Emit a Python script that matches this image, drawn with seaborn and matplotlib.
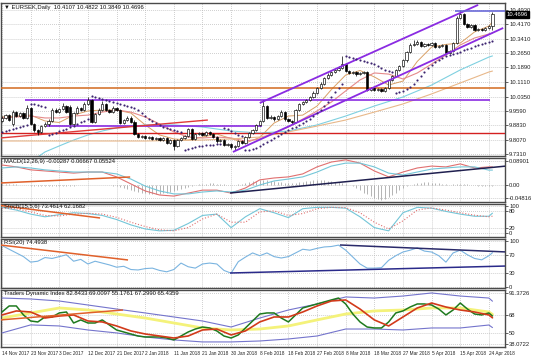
import matplotlib
matplotlib.use("Agg")
import matplotlib.pyplot as plt
import matplotlib.transforms as mtransforms
import numpy as np
import seaborn as sns

# ---------------- EURSEK daily candles ----------------
opens = [9.905, 9.922, 9.937, 9.890, 9.953, 9.932, 9.948, 9.922, 9.975, 9.890,
         9.858, 9.848, 9.879, 9.890, 9.906, 9.964, 9.953, 9.969, 9.985, 9.980,
         9.890, 9.948, 9.975, 9.964, 9.996, 10.017, 9.901, 9.943, 9.964, 9.996,
         9.964, 9.953, 9.975, 9.964, 9.895, 9.911, 9.922, 9.901, 9.837, 9.821,
         9.826, 9.815, 9.821, 9.811, 9.815, 9.805, 9.815, 9.789, 9.805, 9.774,
         9.805, 9.815, 9.826, 9.864, 9.811, 9.837, 9.842, 9.832, 9.848, 9.837,
         9.821, 9.800, 9.805, 9.779, 9.784, 9.768, 9.774, 9.800, 9.789, 9.821,
         9.842, 9.858, 9.885, 9.906, 9.985, 9.922, 9.927, 9.916, 9.932, 9.953,
         9.916, 9.906, 9.901, 9.964, 9.996, 10.006, 10.017, 10.033, 10.054, 10.080,
         10.102, 10.133, 10.149, 10.165, 10.176, 10.186, 10.207, 10.170, 10.160, 10.165,
         10.154, 10.160, 10.165, 10.070, 10.080, 10.070, 10.075, 10.065, 10.080, 10.123,
         10.144, 10.176, 10.197, 10.228, 10.271, 10.308, 10.313, 10.324, 10.303, 10.313,
         10.308, 10.318, 10.297, 10.303, 10.308, 10.266, 10.276, 10.318, 10.451, 10.472,
         10.419, 10.403, 10.414, 10.387, 10.393, 10.387, 10.398, 10.4107]
highs = [9.930, 9.945, 9.943, 9.964, 9.960, 9.955, 9.952, 9.990, 9.980, 9.896,
         9.866, 9.886, 9.900, 9.914, 9.972, 9.972, 9.977, 10.000, 9.990, 9.990,
         9.955, 9.984, 9.980, 10.004, 10.033, 10.022, 9.950, 9.972, 10.010, 10.002,
         9.970, 9.985, 9.982, 9.970, 9.918, 9.930, 9.930, 9.910, 9.842, 9.832,
         9.830, 9.828, 9.826, 9.822, 9.820, 9.822, 9.820, 9.812, 9.810, 9.812,
         9.820, 9.830, 9.870, 9.868, 9.843, 9.850, 9.848, 9.854, 9.852, 9.842,
         9.826, 9.810, 9.810, 9.790, 9.790, 9.780, 9.806, 9.804, 9.826, 9.848,
         9.864, 9.890, 9.912, 10.017, 9.990, 9.935, 9.930, 9.938, 9.964, 9.958,
         9.920, 9.910, 9.970, 10.003, 10.014, 10.024, 10.040, 10.062, 10.088, 10.110,
         10.140, 10.158, 10.172, 10.183, 10.196, 10.250, 10.212, 10.176, 10.170, 10.172,
         10.166, 10.172, 10.170, 10.088, 10.085, 10.081, 10.080, 10.086, 10.130, 10.150,
         10.182, 10.204, 10.235, 10.278, 10.318, 10.334, 10.334, 10.330, 10.320, 10.318,
         10.325, 10.324, 10.310, 10.314, 10.312, 10.282, 10.324, 10.462, 10.493, 10.478,
         10.425, 10.420, 10.418, 10.398, 10.398, 10.404, 10.415, 10.4822]
lows = [9.898, 9.916, 9.906, 9.880, 9.926, 9.928, 9.916, 9.915, 9.884, 9.850,
        9.832, 9.842, 9.872, 9.882, 9.900, 9.946, 9.946, 9.962, 9.946, 9.884,
        9.884, 9.942, 9.957, 9.958, 9.990, 9.895, 9.895, 9.936, 9.958, 9.958,
        9.946, 9.948, 9.958, 9.888, 9.888, 9.905, 9.894, 9.830, 9.814, 9.815,
        9.808, 9.810, 9.804, 9.805, 9.798, 9.800, 9.782, 9.783, 9.752, 9.766,
        9.798, 9.808, 9.820, 9.805, 9.805, 9.830, 9.826, 9.826, 9.830, 9.815,
        9.792, 9.795, 9.772, 9.772, 9.760, 9.752, 9.768, 9.782, 9.784, 9.815,
        9.836, 9.852, 9.878, 9.900, 9.915, 9.915, 9.908, 9.910, 9.926, 9.908,
        9.898, 9.892, 9.895, 9.958, 9.990, 10.000, 10.010, 10.028, 10.048, 10.074,
        10.096, 10.126, 10.142, 10.158, 10.170, 10.180, 10.164, 10.152, 10.154, 10.146,
        10.148, 10.154, 10.064, 10.062, 10.062, 10.064, 10.058, 10.060, 10.074, 10.118,
        10.138, 10.170, 10.190, 10.220, 10.264, 10.300, 10.306, 10.296, 10.296, 10.300,
        10.302, 10.290, 10.290, 10.296, 10.258, 10.262, 10.270, 10.312, 10.444, 10.412,
        10.396, 10.396, 10.380, 10.382, 10.380, 10.382, 10.392, 10.3849]
closes = [9.922, 9.937, 9.911, 9.953, 9.932, 9.948, 9.922, 9.975, 9.890, 9.858,
          9.848, 9.879, 9.890, 9.906, 9.964, 9.953, 9.969, 9.985, 9.953, 9.890,
          9.948, 9.975, 9.964, 9.996, 10.017, 9.901, 9.943, 9.964, 9.996, 9.964,
          9.953, 9.975, 9.964, 9.895, 9.911, 9.922, 9.901, 9.837, 9.821, 9.826,
          9.815, 9.821, 9.811, 9.815, 9.805, 9.815, 9.789, 9.805, 9.774, 9.805,
          9.815, 9.826, 9.864, 9.811, 9.837, 9.842, 9.832, 9.848, 9.837, 9.821,
          9.800, 9.805, 9.779, 9.784, 9.768, 9.774, 9.800, 9.789, 9.821, 9.842,
          9.858, 9.885, 9.906, 9.985, 9.922, 9.927, 9.916, 9.932, 9.953, 9.916,
          9.906, 9.901, 9.964, 9.996, 10.006, 10.017, 10.033, 10.054, 10.080, 10.102,
          10.133, 10.149, 10.165, 10.176, 10.186, 10.207, 10.170, 10.160, 10.165, 10.154,
          10.160, 10.165, 10.070, 10.080, 10.070, 10.075, 10.065, 10.080, 10.123, 10.144,
          10.176, 10.197, 10.228, 10.271, 10.308, 10.313, 10.324, 10.303, 10.313, 10.308,
          10.318, 10.297, 10.303, 10.308, 10.266, 10.276, 10.318, 10.451, 10.472, 10.419,
          10.403, 10.414, 10.387, 10.393, 10.387, 10.398, 10.408, 10.4696]
sar = [9.848, 9.853, 9.858, 9.864, 9.869, 9.874, 9.879, 9.885,
       9.996, 9.996, 9.990, 9.985, 9.980,
       9.832, 9.837, 9.842, 9.853, 9.858, 9.864, 9.874, 9.879, 9.890, 9.901, 9.906, 9.916,
       10.038, 10.033, 10.027, 10.022, 10.017, 10.012, 10.006, 10.001, 9.996, 9.990, 9.985, 9.980,
       9.975, 9.964, 9.948, 9.932, 9.916, 9.906, 9.895, 9.885, 9.874, 9.869, 9.864, 9.858, 9.853, 9.848,
       9.752, 9.758, 9.763, 9.768, 9.774, 9.774, 9.779, 9.779, 9.779, 9.784, 9.784,
       9.869, 9.864, 9.853, 9.842, 9.832, 9.826,
       9.752, 9.752, 9.758, 9.763, 9.774, 9.784, 9.795, 9.805, 9.816, 9.826, 9.837, 9.848, 9.858, 9.869,
       9.874, 9.885, 9.895, 9.906, 9.916, 9.932, 9.948, 9.964, 9.985, 10.006, 10.033, 10.059, 10.080, 10.102,
       10.250, 10.244, 10.239, 10.234, 10.228, 10.223, 10.218, 10.213, 10.207, 10.197, 10.186, 10.176, 10.170, 10.165,
       10.054, 10.059, 10.065, 10.075, 10.086, 10.102, 10.123, 10.144, 10.165, 10.186, 10.202, 10.218, 10.228, 10.239,
       10.250, 10.255, 10.260,
       10.266, 10.271, 10.281, 10.287, 10.292, 10.303, 10.308, 10.313, 10.318, 10.324, 10.329]

# sample positions (bar numbers) of the smoothed lines
step4 = list(range(0, 137, 4)) + [137]
step2 = list(range(0, 137, 2)) + [137]
step8 = list(range(0, 137, 8)) + [137]
cyan_ma_idx = [8, 12, 16, 20, 24, 28, 32, 40, 48, 56, 64, 72, 80, 88, 96, 104, 112, 120, 128, 136, 137]

ma_fast = [9.927, 9.932, 9.937, 9.906, 9.898, 9.937, 9.959, 9.964, 9.964, 9.948,
           9.885, 9.832, 9.811, 9.805, 9.821, 9.837, 9.813, 9.789, 9.819, 9.895,
           9.932, 9.937, 9.985, 10.072, 10.149, 10.173, 10.139, 10.096, 10.117, 10.221,
           10.297, 10.311, 10.318, 10.377, 10.408, 10.430]
ma_mid = [9.922, 9.927, 9.932, 9.922, 9.922, 9.932, 9.937, 9.953, 9.964, 9.953,
          9.927, 9.890, 9.848, 9.821, 9.816, 9.821, 9.816, 9.800, 9.811, 9.842,
          9.874, 9.916, 9.959, 10.006, 10.065, 10.123, 10.160, 10.154, 10.128, 10.160,
          10.207, 10.255, 10.308, 10.345, 10.366, 10.371]
ma_cyan = [9.689, 9.742, 9.774, 9.805, 9.832, 9.853, 9.869, 9.885, 9.885, 9.874,
           9.853, 9.842, 9.853, 9.885, 9.932, 9.985, 10.033, 10.096, 10.176, 10.244, 10.250]
ma_slow = [9.800, 9.800, 9.800, 9.800, 9.800, 9.800, 9.803, 9.805, 9.811, 9.821,
           9.848, 9.879, 9.911, 9.953, 9.996, 10.049, 10.107, 10.165, 10.170]

# drawn objects: (bar, price) end points
orange_level = 10.080
red_level = 9.842
purple_top = [(6.4, 10.017), (136.3, 10.017)]
purple_low = [(12.6, 9.879), (72.6, 9.879)]
red_trend = [(-0.5, 9.816), (57.5, 9.911)]
channel_up = [(72.0, 10.001), (133.0, 10.520)]
channel_dn = [(64.5, 9.742), (140.0, 10.398)]
top_line = [(126.5, 10.488), (141.0, 10.488)]

# ---------------- MACD ----------------
macd_main = [0.074, 0.067, 0.056, 0.052, 0.048, 0.044, 0.048, 0.048, 0.030, 0.004,
             -0.022, -0.037, -0.041, -0.030, -0.019, -0.019, -0.030, -0.011, 0.019, 0.026,
             0.030, 0.041, 0.067, 0.085, 0.093, 0.081, 0.052, 0.030, 0.048, 0.063,
             0.070, 0.067, 0.078, 0.063, 0.067, 0.0667]
macd_signal = [0.063, 0.067, 0.063, 0.056, 0.052, 0.048, 0.048, 0.048, 0.041, 0.022,
               -0.004, -0.022, -0.033, -0.033, -0.026, -0.022, -0.026, -0.019, 0.000, 0.015,
               0.022, 0.030, 0.048, 0.070, 0.081, 0.081, 0.067, 0.044, 0.037, 0.048,
               0.059, 0.063, 0.067, 0.067, 0.055, 0.0552]
macd_hist_milli = [5, 5, 4, 3, 2, 1, 0, -1, -2, -3, -4, -4, -3, -3, -2, -2,
                   -2, -2, -3, -3, -2, -1, 0, 0, 0, 0, 0, 1, 0, 0, -1, -2,
                   -5, -8, -12, -15, -18, -22, -25, -28, -30, -32, -33, -34, -33, -31, -28, -25,
                   -22, -18, -14, -10, -6, -2, 0, 2, 4, 5, 6, 6, 5, 3, 2, 0,
                   -1, 0, 2, 5, 8, 11, 14, 16, 18, 18, 17, 16, 14, 12, 10, 9,
                   8, 8, 9, 10, 12, 14, 16, 17, 18, 18, 17, 16, 14, 12, 10, 7,
                   4, 0, -5, -12, -20, -28, -35, -42, -48, -52, -54, -50, -44, -36, -28, -20,
                   -12, -5, 0, 4, 7, 9, 10, 10, 9, 8, 6, 4, 2, 1, 2, 4,
                   5, 4, 2, 0, -1, -2, -3, -3, -3, -3]
macd_trend = [(63.7, -0.0296), (141.0, 0.0703)]
macd_trend_left = [(-0.5, 0.0074), (35.8, 0.0296)]

# ---------------- Stochastic ----------------
stoch_k = [95, 85, 70, 60, 68, 75, 72, 65, 50, 30, 15, 8, 10, 35, 65, 70, 20, 60,
           90, 75, 57, 90, 95, 95, 92, 60, 20, 8, 75, 95, 92, 80, 70, 62, 62, 73.5]
stoch_d = [92, 90, 78, 65, 63, 70, 73, 70, 58, 40, 24, 12, 8, 20, 52, 70, 40, 40,
           78, 82, 65, 72, 90, 95, 94, 75, 40, 15, 45, 85, 93, 85, 75, 66, 60, 62.2]
stoch_trend = [(-0.5, 102.0), (27.4, 55.6)]

# ---------------- RSI ----------------
rsi = [90, 82, 74, 66, 54, 56, 64, 62, 66, 70,
       56, 60, 50, 56, 52, 48, 43, 45, 38, 37,
       40, 41, 36, 33, 38, 52, 44, 41, 50, 52,
       50, 36, 30, 55, 65, 74, 68, 74, 66, 63,
       66, 74, 82, 80, 84, 87, 88, 91, 80, 65,
       50, 41, 41, 42, 58, 68, 76, 80, 85, 78,
       76, 68, 54, 74, 80, 70, 62, 59, 68, 74.5]
rsi_trend_left = [(-0.5, 91.3), (35.2, 58.7)]
rsi_trend_top = [(94.4, 91.3), (141.0, 76.1)]
rsi_trend_low = [(63.7, 30.4), (141.0, 45.6)]

# ---------------- Traders Dynamic Index ----------------
tdi_green = [71.5, 77.8, 77.8, 68.4, 62.1, 61.1, 66.3, 66.3, 70.5, 71.5,
             60.0, 63.2, 60.0, 60.0, 63.2, 57.9, 52.7, 50.6, 48.5, 46.4,
             45.4, 45.4, 45.4, 44.3, 42.3, 46.4, 50.6, 53.7, 55.8, 54.8,
             51.7, 46.4, 44.3, 47.5, 54.8, 62.1, 69.4, 70.5, 70.5, 65.2,
             61.1, 68.4, 75.7, 77.8, 79.9, 82.0, 84.1, 86.1, 79.9, 69.4,
             61.1, 55.8, 54.8, 54.8, 61.1, 70.5, 72.6, 76.7, 79.9, 79.9,
             78.8, 74.6, 68.4, 73.6, 80.9, 74.6, 69.4, 68.4, 70.5, 67.3]
tdi_red = [68.4, 72.6, 71.5, 65.2, 67.3, 68.4, 62.1, 61.1, 56.9, 51.7,
           48.5, 46.4, 44.3, 46.4, 52.7, 53.7, 47.5, 51.7, 61.1, 66.3,
           66.3, 71.5, 77.8, 83.0, 84.1, 74.6, 63.2, 56.9, 66.3, 75.7,
           80.9, 76.7, 73.6, 71.5, 68.4, 65.4]
tdi_upper = [86.1, 85.1, 83.0, 78.8, 74.6, 70.5, 66.3, 62.1, 55.8, 65.2,
             73.6, 79.9, 87.2, 86.1, 88.2, 91.4, 88.2, 86.1, 82.8]
tdi_lower = [49.6, 58.0, 56.9, 52.7, 49.6, 45.4, 42.3, 40.2, 40.2, 41.2,
             43.3, 46.4, 53.7, 53.7, 52.7, 54.8, 54.8, 57.9, 55.2]
tdi_base = [65.2, 70.5, 75.7, 73.6, 69.4, 65.2, 60.0, 54.8, 52.7, 53.7,
            56.9, 63.2, 69.4, 72.6, 73.6, 75.7, 75.7, 71.5, 69.0]
tdi_trend = [(-0.5, 63.2), (33.8, 73.6)]

# ---------------- axis labels ----------------
date_ticks = list(range(0, 137, 8))
date_labels = ["14 Nov 2017", "23 Nov 2017", "3 Dec 2017", "12 Dec 2017", "21 Dec 2017",
               "2 Jan 2018", "11 Jan 2018", "21 Jan 2018", "30 Jan 2018", "8 Feb 2018",
               "18 Feb 2018", "27 Feb 2018", "8 Mar 2018", "18 Mar 2018", "27 Mar 2018",
               "5 Apr 2018", "15 Apr 2018", "24 Apr 2018"]
price_ticks = [10.4930, 10.4170, 10.3410, 10.2650, 10.1890, 10.1110, 10.0350,
               9.9590, 9.8830, 9.8070, 9.7310]

sns.set_theme(style="white")
plt.rcParams['font.family'] = ['Liberation Sans', 'DejaVu Sans']

W, H = 536, 358
fig = plt.figure(figsize=(W / 100, H / 100), dpi=100)
FS = 4.2
FSX = 3.4
GRID = dict(color='#b4b4b4', linestyle=':', linewidth=0.55)


def panel(top, bottom):
    ax = fig.add_axes([1 / W, 1 - bottom / H, 504 / W, (bottom - top) / H])
    ax.set_facecolor('white')
    for s in ax.spines.values():
        s.set_color('#4a4a4a')
        s.set_linewidth(1.0)
    ax.yaxis.tick_right()
    ax.tick_params(axis='y', labelsize=FS, length=2, pad=1, width=0.5, colors='#222222')
    ax.tick_params(axis='x', length=0, labelbottom=False)
    ax.set_xticks(date_ticks)
    ax.set_xlim(-0.28, 140.5)
    ax.grid(True, **GRID)
    ax.set_axisbelow(True)
    return ax


def seg(ax, pts, color, lw=1.0, z=6):
    ax.plot([pts[0][0], pts[1][0]], [pts[0][1], pts[1][1]], color=color, lw=lw, zorder=z,
            solid_capstyle='butt')


def label(ax, txt):
    ax.text(0.006, 0.985, txt, transform=ax.transAxes, fontsize=FS, va='top', ha='left',
            color='#111111', zorder=10)


# ---- main price panel ----
ax = panel(3, 156)
sns.lineplot(x=step4, y=ma_fast, ax=ax, color='#d9a066', linewidth=0.7, zorder=2)
sns.lineplot(x=step4, y=ma_mid, ax=ax, color='#e58a8a', linewidth=0.8, zorder=2)
sns.lineplot(x=cyan_ma_idx, y=ma_cyan, ax=ax, color='#7fd0e0', linewidth=0.8, zorder=2)
sns.lineplot(x=step8, y=ma_slow, ax=ax, color='#e8b88a', linewidth=0.8, zorder=2)

ax.axhline(orange_level, color='#d2691e', lw=1.1, zorder=3)
ax.axhline(red_level, color='#d42020', lw=1.0, zorder=3)
seg(ax, purple_top, '#8a2be2', 1.2, 3)
seg(ax, purple_low, '#8a2be2', 1.2, 3)
seg(ax, red_trend, '#e03a3a', 1.0, 3)
seg(ax, channel_up, '#8a2be2', 1.3, 6)
seg(ax, channel_dn, '#8a2be2', 1.3, 6)
seg(ax, top_line, '#6a6ad8', 1.2, 6)

idx = np.arange(len(closes))
o = np.array(opens)
c = np.array(closes)
ax.vlines(idx, lows, highs, color='black', lw=0.5, zorder=4)
body_lo = np.minimum(o, c)
body_h = np.maximum(np.abs(c - o), 0.0012)
ax.bar(idx, body_h, bottom=body_lo, width=0.62,
       color=np.where(c >= o, 'white', 'black'), edgecolor='black', linewidth=0.45, zorder=5)
sns.scatterplot(x=idx, y=sar, ax=ax, color='#3c2470', s=2.4, linewidth=0, zorder=6)

ax.set_ylim(9.7207, 10.530)
ax.set_yticks(price_ticks)
ax.set_yticklabels([f"{v:.4f}" for v in price_ticks])
ax.set_xlabel('')
ax.set_ylabel('')
label(ax, "\u25bc EURSEK,Daily  10.4107 10.4822 10.3849 10.4696")
trans = mtransforms.blended_transform_factory(ax.transAxes, ax.transData)
ax.text(1.004, closes[-1], "10.4696", transform=trans, fontsize=FS, color='white',
        va='center', ha='left', zorder=12,
        bbox=dict(boxstyle='square,pad=0.12', fc='black', ec='black'))

# ---- MACD ----
ax = panel(158, 202)
ax.vlines(idx, 0, np.array(macd_hist_milli) / 1000.0, color='#a8a8a8', lw=0.6, zorder=2)
sns.lineplot(x=step4, y=macd_main, ax=ax, color='#e07070', linewidth=0.8, zorder=3)
sns.lineplot(x=step4, y=macd_signal, ax=ax, color='#74c6d8', linewidth=0.8, zorder=3)
seg(ax, macd_trend, '#1f1f4f', 1.1)
seg(ax, macd_trend_left, '#e0602a', 1.1)
ax.set_ylim(-0.0629, 0.0999)
ax.set_yticks([0.08901, 0.0, -0.04816])
ax.set_yticklabels(["0.08901", "0.00", "-0.04816"])
ax.set_xlabel('')
ax.set_ylabel('')
label(ax, "MACD(12,26,9) -0.00287 0.06667 0.05524")

# ---- Stochastic ----
ax = panel(204, 237)
sns.lineplot(x=step4, y=stoch_k, ax=ax, color='#74c6d8', linewidth=0.8, zorder=3)
sns.lineplot(x=step4, y=stoch_d, ax=ax, color='#e07070', linewidth=0.8, linestyle=':', zorder=3)
seg(ax, stoch_trend, '#e0602a', 1.1)
ax.set_ylim(-14.8, 107.4)
ax.set_yticks([100, 80, 20, 0])
ax.set_yticklabels(["100", "80", "20", "0"])
ax.set_xlabel('')
ax.set_ylabel('')
label(ax, "Stoch(15,5,6) 73.4614 62.1682")

# ---- RSI ----
ax = panel(239, 288)
sns.lineplot(x=step2, y=rsi, ax=ax, color='#7ab4e0', linewidth=0.8, zorder=3)
seg(ax, rsi_trend_left, '#e0602a', 1.1)
seg(ax, rsi_trend_top, '#2a2a6a', 1.1)
seg(ax, rsi_trend_low, '#2a2a8a', 1.1)
ax.set_ylim(-2.2, 104.3)
ax.set_yticks([100, 70, 30, 0])
ax.set_yticklabels(["100", "70", "30", "0"])
ax.set_xlabel('')
ax.set_ylabel('')
label(ax, "RSI(20) 74.4938")

# ---- Traders Dynamic Index ----
ax = panel(290, 347)
sns.lineplot(x=step8, y=tdi_base, ax=ax, color='#f4f27a', linewidth=2.0, zorder=2)
sns.lineplot(x=step8, y=tdi_upper, ax=ax, color='#7474cc', linewidth=0.8, zorder=3)
sns.lineplot(x=step8, y=tdi_lower, ax=ax, color='#7474cc', linewidth=0.8, zorder=3)
sns.lineplot(x=step2, y=tdi_green, ax=ax, color='#1f7a1f', linewidth=1.1, zorder=4)
sns.lineplot(x=step4, y=tdi_red, ax=ax, color='#d23a1a', linewidth=1.2, zorder=5)
seg(ax, tdi_trend, '#e0602a', 1.1)
ax.set_ylim(34.9, 94.5)
ax.set_yticks([91.3726, 68, 50, 38.0722])
ax.set_yticklabels(["91.3726", "68", "50", "38.0722"])
ax.set_xlabel('')
ax.set_ylabel('')
label(ax, "Traders Dynamic Index 82.8433 69.0097 55.1761 67.2990 65.4359")
ax.tick_params(axis='x', labelbottom=True, labelsize=FSX, length=2, pad=1, width=0.5,
               colors='#222222')
ax.set_xticklabels(date_labels)
for t in ax.get_xticklabels():
    t.set_horizontalalignment('left')

fig.savefig("out.png", dpi=100)
